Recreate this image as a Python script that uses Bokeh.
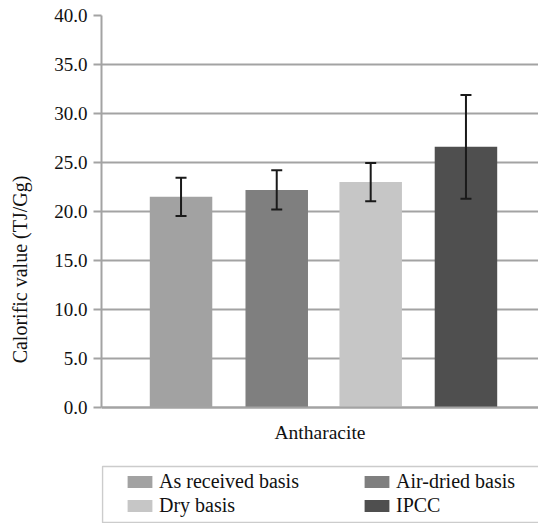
from bokeh.plotting import figure
from bokeh.models import (ColumnDataSource, FactorRange, Range1d, Whisker, TeeHead, BoxAnnotation,
                          Legend, LegendItem, SingleIntervalTicker, PrintfTickFormatter)
from bokeh.transform import dodge
from bokeh.embed import file_html
from bokeh.resources import INLINE

# ---- data ----
group = ["Antharacite"]
series = ["As received basis", "Air-dried basis", "Dry basis", "IPCC"]
values = [21.5, 22.2, 23.0, 26.6]
errors = [1.95, 2.0, 1.95, 5.3]
colors = ["#a2a2a2", "#7f7f7f", "#c6c6c6", "#4f4f4f"]
y_ticks_interval = 5
y_max = 40

# ---- layout / style ----
offsets = [-0.318, -0.099, 0.116, 0.334]
BAR_W = 0.143
Y_MIN_VIEW = -11.84      # blank area below zero holding the category label and legend
FONT = "Liberation Serif, Times New Roman, serif"
GRID = "#a3a3a3"
TXT = "#111111"

p = figure(width=538, height=523, x_range=FactorRange(*group),
           y_range=Range1d(Y_MIN_VIEW, y_max),
           output_backend="svg", toolbar_location=None,
           min_border_left=101, min_border_right=0, min_border_top=15, min_border_bottom=0)
p.outline_line_color = None
p.background_fill_color = "white"
p.x_range.range_padding = 0

renderers = []
for s, v, e, c, off in zip(series, values, errors, colors, offsets):
    src = ColumnDataSource(dict(g=group, top=[v], upper=[v + e], lower=[v - e]))
    r = p.vbar(x=dodge("g", off, range=p.x_range), top="top", bottom=0, width=BAR_W,
               source=src, fill_color=c, line_color=None)
    renderers.append((s, r))
    w = Whisker(base=dodge("g", off, range=p.x_range), upper="upper", lower="lower",
                source=src, line_color="#1a1a1a", line_width=2, level="annotation",
                upper_head=TeeHead(size=11, line_color="#1a1a1a", line_width=2),
                lower_head=TeeHead(size=11, line_color="#1a1a1a", line_width=2))
    p.add_layout(w)

# y axis
p.yaxis.ticker = SingleIntervalTicker(interval=y_ticks_interval)
p.yaxis.formatter = PrintfTickFormatter(format="%.1f")
p.yaxis.bounds = (0, y_max)
p.yaxis.axis_label = "Calorific value (TJ/Gg)"
p.yaxis.axis_label_text_font = FONT
p.yaxis.axis_label_text_font_size = "20px"
p.yaxis.axis_label_text_font_style = "normal"
p.yaxis.axis_label_text_color = TXT
p.yaxis.axis_label_standoff = 20
p.yaxis.major_label_text_font = FONT
p.yaxis.major_label_text_font_size = "19px"
p.yaxis.major_label_text_color = TXT
p.yaxis.major_label_standoff = 6
p.yaxis.major_tick_out = 8
p.yaxis.major_tick_in = 0
p.yaxis.minor_tick_line_color = None
p.yaxis.axis_line_color = GRID
p.yaxis.axis_line_width = 2
p.yaxis.major_tick_line_color = GRID
p.yaxis.major_tick_line_width = 2

# x axis sits at zero
p.xaxis.fixed_location = 0
p.xaxis.major_label_text_font = FONT
p.xaxis.major_label_text_font_size = "19.5px"
p.xaxis.major_label_text_color = TXT
p.xaxis.major_label_standoff = 9
p.xaxis.major_tick_line_color = None
p.xaxis.minor_tick_line_color = None
p.xaxis.axis_line_color = GRID
p.xaxis.axis_line_width = 2

p.xgrid.grid_line_color = None
p.ygrid.grid_line_color = GRID
p.ygrid.grid_line_width = 2
p.ygrid.bounds = (0, y_max)

# legend border
p.add_layout(BoxAnnotation(left=1, right=2000, bottom=1, top=57,
                           left_units="screen", right_units="screen",
                           bottom_units="screen", top_units="screen",
                           fill_color=None, fill_alpha=0,
                           line_color="#555555", line_width=1.5))

# legend: rows [As received, Air-dried], [Dry, IPCC]
order = [0, 2, 1, 3]
items = [LegendItem(label=renderers[i][0], renderers=[renderers[i][1]]) for i in order]
legend = Legend(items=items, ncols=2, location=(23, 6),
                label_text_font=FONT, label_text_font_size="20px", label_text_color=TXT,
                glyph_width=31, glyph_height=15, label_standoff=4, label_width=201,
                label_height=20, spacing=1, padding=5, margin=0,
                border_line_color=None, background_fill_color=None, background_fill_alpha=0)
p.add_layout(legend)

html = file_html(p, INLINE)
open("out.html", "w").write(html)
